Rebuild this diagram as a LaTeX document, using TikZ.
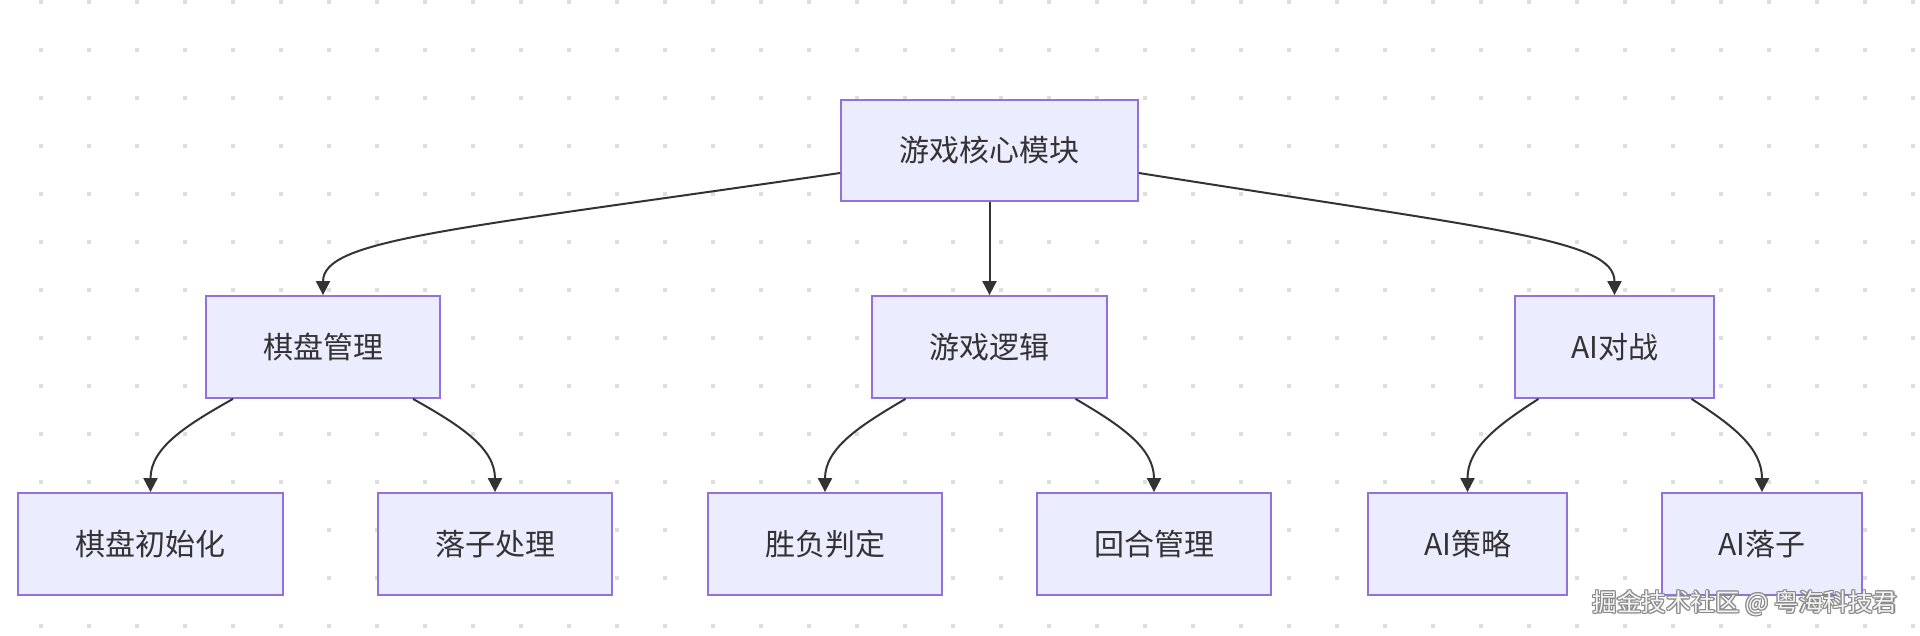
\documentclass[tikz,border=0pt]{standalone}
\usepackage{fontspec}
\setmainfont{Noto Sans CJK SC}
\usetikzlibrary{arrows.meta,calc}
\definecolor{boxfill}{HTML}{ECECFF}
\definecolor{boxline}{HTML}{9370DB}
\definecolor{ink}{HTML}{333333}
\definecolor{dotc}{HTML}{DEDEDE}
\definecolor{wmline}{HTML}{8A8A8A}
\definecolor{wmfill}{HTML}{F4F4F4}
\tikzset{
  box/.style={draw=boxline, fill=boxfill, line width=1.8pt, minimum height=102pt,
    text=ink, font=\fontsize{30}{36}\selectfont, inner sep=0pt},
  link/.style={draw=ink, line width=2pt, -{Triangle[length=14pt,width=14pt]}},
  wm/.style={font=\fontsize{24.6}{28}\selectfont, inner sep=0pt},
}
\begin{document}
\begin{tikzpicture}[x=1pt,y=-1pt]
\useasboundingbox (0,0) rectangle (1920,636);
\fill[white] (0,0) rectangle (1920,636);
\foreach \i in {0,...,39}{
  \foreach \j in {0,...,13}{
    \fill[dotc] ({41+48*\i-1.7},{2+48*\j-2}) rectangle ++(3.4,4);
  }
}
% nodes
\node[box, minimum width=297pt, minimum height=101pt] (core) at (989.5,150.5) {游戏核心模块};
\node[box, minimum width=234pt] (board) at (323,347) {棋盘管理};
\node[box, minimum width=235pt] (logic) at (989.5,347) {游戏逻辑};
\node[box, minimum width=199pt] (ai) at (1614.5,347) {AI对战};
\node[box, minimum width=265pt] (init) at (150.5,544) {棋盘初始化};
\node[box, minimum width=234pt] (place) at (495,544) {落子处理};
\node[box, minimum width=234pt] (win) at (825,544) {胜负判定};
\node[box, minimum width=234pt] (turn) at (1154,544) {回合管理};
\node[box, minimum width=199pt] (aistr) at (1467.5,544) {AI策略};
\node[box, minimum width=200pt] (aimove) at (1762,544) {AI落子};
% first level edges
\draw[link] ($(core.west)+(0,22.5)$) .. controls (450,230) and ($(board.north)+(0,-56)$) .. (board.north);
\draw[link] (core.south) -- (logic.north);
\draw[link] ($(core.east)+(0,22.5)$) .. controls (1497,230) and ($(ai.north)+(0,-56)$) .. (ai.north);
% second level edges
\draw[link] ($(board.south)+(-90,0)$) .. controls ($(board.south)+(-138,27)$) and ($(init.north)+(0,-44)$) .. (init.north);
\draw[link] ($(board.south)+(90,0)$) .. controls ($(board.south)+(138,27)$) and ($(place.north)+(0,-44)$) .. (place.north);
\draw[link] ($(logic.south)+(-84,0)$) .. controls ($(logic.south)+(-130,27)$) and ($(win.north)+(0,-44)$) .. (win.north);
\draw[link] ($(logic.south)+(86,0)$) .. controls ($(logic.south)+(132,27)$) and ($(turn.north)+(0,-44)$) .. (turn.north);
\draw[link] ($(ai.south)+(-76,0)$) .. controls ($(ai.south)+(-118,27)$) and ($(aistr.north)+(0,-44)$) .. (aistr.north);
\draw[link] ($(ai.south)+(77,0)$) .. controls ($(ai.south)+(119,27)$) and ($(aimove.north)+(0,-44)$) .. (aimove.north);
% watermark
\foreach \dx/\dy in {-1.2/0,1.2/0,0/-1.2,0/1.2,-0.9/-0.9,0.9/0.9,-0.9/0.9,0.9/-0.9}{
  \node[wm, text=wmline] (wmo) at (1745+\dx,603+\dy) {掘金技术社区 @ 粤海科技君};
}
\node[wm, text=wmfill] (wmark) at (1745,603) {掘金技术社区 @ 粤海科技君};
\end{tikzpicture}
\end{document}
